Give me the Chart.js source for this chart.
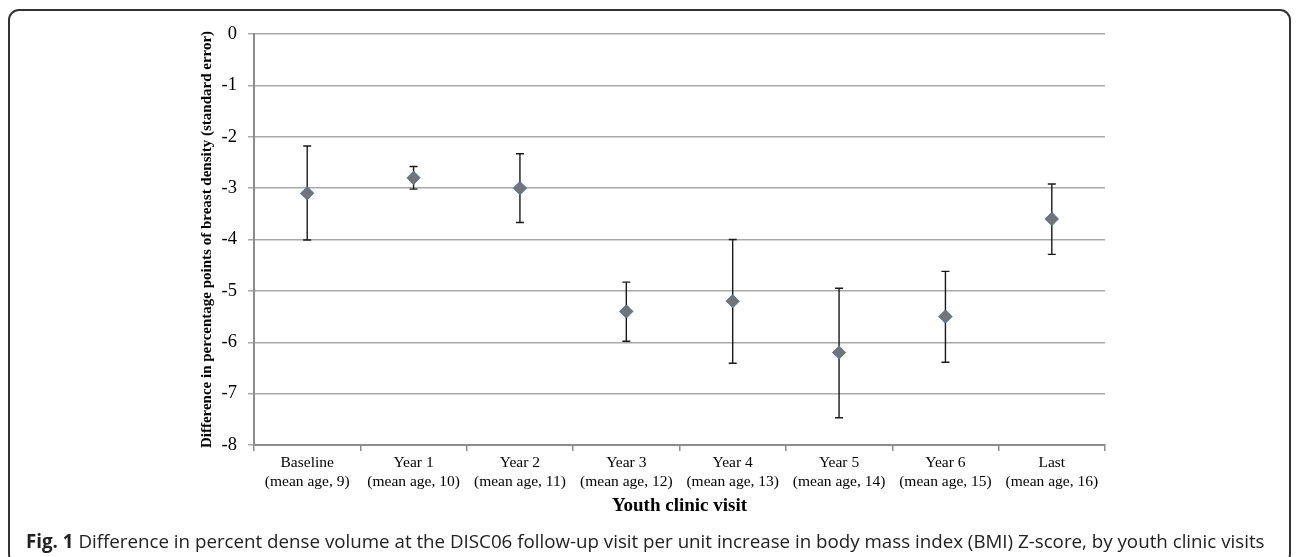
<!DOCTYPE html>
<html>
<head>
<meta charset="utf-8">
<script src="https://cdn.jsdelivr.net/npm/chart.js@4.4.1/dist/chart.umd.min.js"></script>
<style>
  html, body { margin: 0; padding: 0; background: #fff; }
  #wrap { position: relative; width: 1296px; height: 557px; overflow: hidden; }
  #frame {
    position: absolute; left: 8px; top: 9px; width: 1283px; height: 556px;
    border: 2px solid #333; border-radius: 11px; box-sizing: border-box;
  }
  #chartBox { position: absolute; left: 0; top: 0; width: 1296px; height: 557px; }
  #caption {
    position: absolute; left: 26px; top: 528px; white-space: nowrap;
    font-family: "Open Sans", "Noto Sans", sans-serif; font-size: 17px; color: #222;
  }
  #caption b { font-weight: 700; }
</style>
</head>
<body>
<div id="wrap">
  <div id="frame"></div>
  <div id="chartBox"><canvas id="visitChart"></canvas></div>
  <div id="caption"><b>Fig. 1</b> Difference in percent dense volume at the DISC06 follow-up visit per unit increase in body mass index (BMI) Z-score, by youth clinic visits</div>
</div>
<script>
  // values
  var visits = [
    ['Baseline', '(mean age, 9)'],
    ['Year 1', '(mean age, 10)'],
    ['Year 2', '(mean age, 11)'],
    ['Year 3', '(mean age, 12)'],
    ['Year 4', '(mean age, 13)'],
    ['Year 5', '(mean age, 14)'],
    ['Year 6', '(mean age, 15)'],
    ['Last', '(mean age, 16)']
  ];
  var estimates = [-3.1, -2.8, -3.0, -5.4, -5.2, -6.2, -5.5, -3.6];
  var upperErr = [-2.18, -2.58, -2.33, -4.83, -4.0, -4.95, -4.62, -2.92];
  var lowerErr = [-4.01, -3.02, -3.67, -5.98, -6.41, -7.47, -6.39, -4.29];
  var yTicks = [0, -1, -2, -3, -4, -5, -6, -7, -8];

  // fit caption to the width used in the figure
  var cap = document.getElementById('caption');
  var fs = 17;
  cap.style.fontSize = fs + 'px';
  var w = cap.getBoundingClientRect().width;
  fs = fs * 1239 / w;
  cap.style.fontSize = fs.toFixed(2) + 'px';

  var errorBars = {
    id: 'errorBars',
    afterDatasetsDraw: function(chart) {
      var ctx = chart.ctx;
      var xs = chart.scales.x, ys = chart.scales.y;
      ctx.save();
      ctx.strokeStyle = '#1a1a1a';
      ctx.lineWidth = 1.4;
      for (var i = 0; i < estimates.length; i++) {
        var x = xs.getPixelForValue(i);
        var yt = ys.getPixelForValue(upperErr[i]);
        var yb = ys.getPixelForValue(lowerErr[i]);
        ctx.beginPath();
        ctx.moveTo(x, yt); ctx.lineTo(x, yb);
        ctx.moveTo(x - 4, yt); ctx.lineTo(x + 4, yt);
        ctx.moveTo(x - 4, yb); ctx.lineTo(x + 4, yb);
        ctx.stroke();
      }
      ctx.restore();
      // redraw points above the bars
      chart.getDatasetMeta(0).controller.draw();
    }
  };

  var serif = '"Liberation Serif", "DejaVu Serif", serif';

  new Chart(document.getElementById('visitChart'), {
    type: 'line',
    data: {
      labels: visits,
      datasets: [{
        data: estimates,
        showLine: false,
        pointStyle: 'rectRot',
        pointRadius: 6.5,
        pointHoverRadius: 6.5,
        pointBackgroundColor: '#747474',
        pointBorderColor: '#4f81bd',
        pointBorderWidth: 1
      }]
    },
    options: {
      responsive: true,
      maintainAspectRatio: false,
      animation: false,
      events: [],
      layout: { padding: { left: 190, right: 191, top: 34, bottom: 37 } },
      plugins: { legend: { display: false }, tooltip: { enabled: false } },
      scales: {
        x: {
          offset: true,
          grid: { offset: true, drawOnChartArea: false, drawTicks: true, tickLength: 6, color: '#8c8c8c', lineWidth: 1.5 },
          border: { display: true, color: '#8c8c8c', width: 2 },
          ticks: { color: '#000', font: { family: serif, size: 15.5 }, padding: 3, maxRotation: 0, autoSkip: false },
          title: { display: true, text: 'Youth clinic visit', color: '#000', font: { family: serif, size: 19, weight: 'bold' }, padding: { top: 4, bottom: 2.5 } },
          afterFit: function(scale) { scale.height = 75; }
        },
        y: {
          min: -8,
          max: 0,
          afterBuildTicks: function(scale) {
            scale.ticks = yTicks.map(function(v) { return { value: v }; });
          },
          grid: { color: '#a9a9a9', lineWidth: 1.5, drawTicks: true, tickLength: 6 },
          border: { display: true, color: '#8c8c8c', width: 2 },
          ticks: { color: '#000', font: { family: serif, size: 18.5 }, padding: 11 },
          title: { display: true, text: 'Difference in percentage points of breast density (standard error)', color: '#000', font: { family: serif, size: 15, weight: 'bold' }, padding: { top: 8, bottom: 0 } },
          afterFit: function(scale) { scale.width = 64; }
        }
      }
    },
    plugins: [errorBars]
  });
</script>
</body>
</html>
